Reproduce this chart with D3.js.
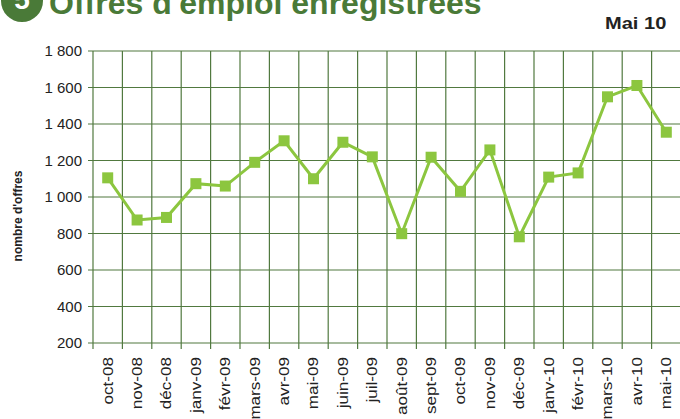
<!DOCTYPE html>
<html>
<head>
<meta charset="utf-8">
<script src="https://cdn.jsdelivr.net/npm/d3@7"></script>
<style>
  body { margin: 0; background: #fff; }
  #chart { width: 680px; height: 419px; overflow: hidden; }
  text { font-family: "Liberation Sans", Arial, sans-serif; }
</style>
</head>
<body>
<div id="chart"></div>
<script>
var months = ["oct-08", "nov-08", "déc-08", "janv-09", "févr-09", "mars-09", "avr-09",
    "mai-09", "juin-09", "juil-09", "août-09", "sept-09", "oct-09", "nov-09", "déc-09",
    "janv-10", "févr-10", "mars-10", "avr-10", "mai-10"];
var offres = [1105, 874, 888, 1073, 1060, 1190, 1308, 1100, 1300, 1220, 799, 1218,
    1031, 1258, 782, 1109, 1132, 1549, 1611, 1355];
var yTicks = [200, 400, 600, 800, 1000, 1200, 1400, 1600, 1800];

var width = 680, height = 419;
var gridColor = "#51793f";
var lineColor = "#8cc63f";

var svg = d3.select("#chart")
    .append("svg")
    .attr("width", width)
    .attr("height", height);

var x = d3.scaleBand()
    .domain(months)
    .range([93, 681])
    .padding(0);

var y = d3.scaleLinear()
    .domain([200, 1800])
    .range([343, 51]);

// horizontal grid
svg.selectAll(".hgrid")
    .data(yTicks)
    .enter()
    .append("line")
        .attr("x1", 88)
        .attr("x2", 681)
        .attr("y1", function(d) { return y(d); })
        .attr("y2", function(d) { return y(d); })
        .attr("stroke", gridColor)
        .attr("stroke-width", 1.2);

// vertical grid, one line per band edge
svg.selectAll(".vgrid")
    .data(months)
    .enter()
    .append("line")
        .attr("x1", function(d) { return x(d); })
        .attr("x2", function(d) { return x(d); })
        .attr("y1", 51)
        .attr("y2", 349)
        .attr("stroke", gridColor)
        .attr("stroke-width", 1.2);

// y labels
svg.selectAll(".ylab")
    .data(yTicks)
    .enter()
    .append("text")
        .attr("x", 82)
        .attr("y", function(d) { return y(d); })
        .attr("dy", "0.35em")
        .attr("text-anchor", "end")
        .attr("font-size", 15)
        .attr("fill", "#222")
        .text(function(d) { return d3.format(",")(d).replace(",", " "); });

// x labels, rotated
svg.selectAll(".xlab")
    .data(months)
    .enter()
    .append("text")
        .attr("transform", function(d) {
            return "translate(" + (x(d) + x.bandwidth() / 2) + ",357) rotate(-90) scale(1.22,1)";
        })
        .attr("dy", "0.35em")
        .attr("text-anchor", "end")
        .attr("font-size", 14)
        .attr("fill", "#222")
        .text(function(d) { return d; });

// line
var line = d3.line()
    .x(function(d, i) { return x(months[i]) + x.bandwidth() / 2; })
    .y(function(d) { return y(d); });

svg.append("path")
    .datum(offres)
    .attr("d", line)
    .attr("fill", "none")
    .attr("stroke", lineColor)
    .attr("stroke-width", 3);

svg.selectAll(".pt")
    .data(offres)
    .enter()
    .append("rect")
        .attr("x", function(d, i) { return x(months[i]) + x.bandwidth() / 2 - 5.5; })
        .attr("y", function(d) { return y(d) - 5.5; })
        .attr("width", 11)
        .attr("height", 11)
        .attr("fill", lineColor);

// axis title
svg.append("text")
    .attr("transform", "translate(22,216) rotate(-90)")
    .attr("text-anchor", "middle")
    .attr("font-size", 12)
    .attr("font-weight", "bold")
    .attr("fill", "#222")
    .text("nombre d'offres");

// heading
svg.append("circle")
    .attr("cx", 22)
    .attr("cy", 1)
    .attr("r", 21)
    .attr("fill", "#4a7a38");

svg.append("text")
    .attr("x", 22)
    .attr("y", 9)
    .attr("text-anchor", "middle")
    .attr("font-size", 28)
    .attr("font-weight", "bold")
    .attr("fill", "#fff")
    .text("5");

svg.append("text")
    .attr("x", 49)
    .attr("y", 14)
    .attr("font-size", 32)
    .attr("font-weight", "bold")
    .attr("fill", "#4a7a38")
    .text("Offres d'emploi enregistrées");

svg.append("text")
    .attr("transform", "translate(605,29) scale(1.18,1)")
    .attr("font-size", 17)
    .attr("font-weight", "bold")
    .attr("fill", "#222")
    .text("Mai 10");
</script>
</body>
</html>
